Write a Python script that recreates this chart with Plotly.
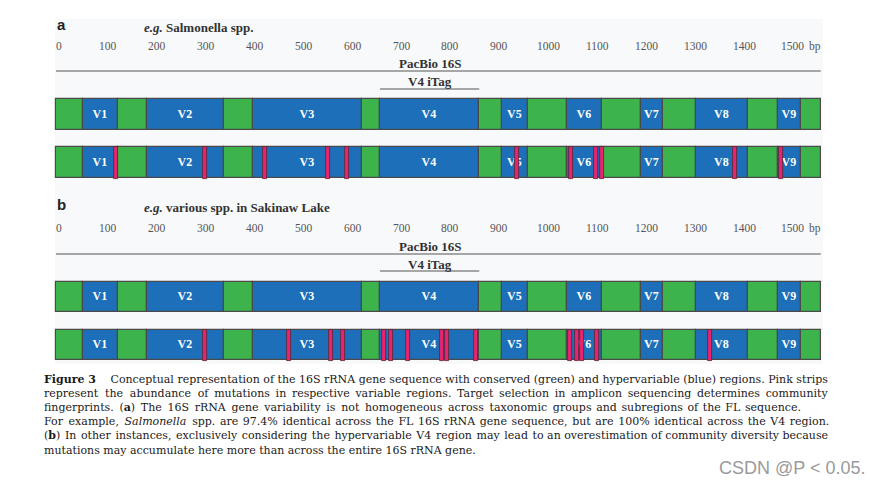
import plotly.graph_objects as go

W, H = 889, 485
PX0 = 56.0        # pixel where 0 bp sits
PXBP = 0.4893     # pixels per bp

# ---------------- data ----------------
REGION_BOUNDS = [0, 55, 127, 186, 343, 403, 625, 662, 865, 912, 965,
                 1044, 1116, 1196, 1241, 1308, 1414, 1476, 1523, 1563]
REGION_LABELS = ["", "V1", "", "V2", "", "V3", "", "V4", "", "V5", "",
                 "V6", "", "V7", "", "V8", "", "V9", ""]
REGION_TYPES = ["conserved" if lab == "" else "variable" for lab in REGION_LABELS]

TICK_VALUES = [0, 100, 200, 300, 400, 500, 600, 700, 800, 900, 1000,
               1100, 1200, 1300, 1400, 1500]
TICK_LABELS = [str(v) for v in TICK_VALUES]
UNIT_LABEL = "bp"

PACBIO_SPAN = [0, 1563]
ITAG_SPAN = [662, 865]

MUTATIONS_A = [122, 304, 427, 556, 595, 942, 1052, 1104, 1116, 1388, 1482]
MUTATIONS_B = [304, 476, 562, 587, 670, 685, 720, 788, 799, 858,
               1051, 1065, 1075, 1106, 1336]
STRIP_BP = 8

PANEL_TITLES = ["<b><i>e.g.</i> Salmonella spp.</b>",
                "<b><i>e.g.</i> various spp. in Sakinaw Lake</b>"]
PANEL_LETTERS = ["a", "b"]

CAPTION = [
    "<b>Figure 3</b>\u2003 Conceptual representation of the 16S rRNA gene sequence with conserved (green) and hypervariable (blue) regions. Pink strips",
    "represent the abundance of mutations in respective variable regions. Target selection in amplicon sequencing determines community",
    "fingerprints. (<b>a</b>) The 16S rRNA gene variability is not homogeneous across taxonomic groups and subregions of the FL sequence.",
    "For example, <i>Salmonella</i> spp. are 97.4% identical across the FL 16S rRNA gene sequence, but are 100% identical across the V4 region.",
    "(<b>b</b>) In other instances, exclusively considering the hypervariable V4 region may lead to an overestimation of community diversity because",
    "mutations may accumulate here more than across the entire 16S rRNA gene.",
]
WATERMARK = "CSDN @P < 0.05."

# ---------------- styles ----------------
GREEN = "#3cb44b"
BLUE = "#1c6fb8"
PINK = "#e8246f"
EDGE = "#4a4a4a"
TYPE_COLOR = {"conserved": GREEN, "variable": BLUE}
SERIF = "Liberation Serif"
CAP_SIZE = 11
# approximate extra pixels per caption line to imitate justified text
CAP_EXTRA = [0, 36, 33, 26, 13, 0]

PANELS = [
    dict(letter_y=24, title_y=27, tick_y=46, pac_y=63, pac_line=71,
         itag_y=81, itag_line=89, row1=(99, 130), row2=(147, 178)),
    dict(letter_y=204, title_y=207, tick_y=228, pac_y=246, pac_line=254,
         itag_y=264, itag_line=271, row1=(282, 312), row2=(330, 360)),
]
MUTATIONS = [MUTATIONS_A, MUTATIONS_B]


def justify(line, extra_px, size):
    """Spread extra_px over the word gaps with thin / hair spaces."""
    gaps = line.count(" ")
    if gaps == 0 or extra_px <= 0:
        return line
    hair = 0.1 * size
    units = int(round(extra_px / hair))
    parts = line.split(" ")
    out = parts[0]
    for i, w in enumerate(parts[1:]):
        n = units // gaps + (1 if i < units % gaps else 0)
        pad = "\u2009" * (n // 2) + "\u200a" * (n % 2)
        out += " " + pad + w
    return out


fig = go.Figure()
shapes = []
annotations = []

shapes.append(dict(type="rect", xref="paper", yref="y", x0=55 / W, x1=823 / W,
                   y0=19, y1=364, fillcolor="#f8f9fb", line_width=0, layer="below"))

starts = REGION_BOUNDS[:-1]
widths = [b - a for a, b in zip(REGION_BOUNDS[:-1], REGION_BOUNDS[1:])]
colors = [TYPE_COLOR[t] for t in REGION_TYPES]

for p, muts in zip(PANELS, MUTATIONS):
    for (top, bot) in (p["row1"], p["row2"]):
        yc = (top + bot) / 2
        fig.add_trace(go.Bar(
            orientation="h", y=[yc] * len(starts), base=starts, x=widths,
            width=bot - top, marker=dict(color=colors, line=dict(color=EDGE, width=1.2)),
            text=REGION_LABELS, textposition="inside", insidetextanchor="middle",
            textangle=0, constraintext="none",
            textfont=dict(family=SERIF, size=12, color="white", weight="bold"),
            hoverinfo="skip", showlegend=False,
        ))
    top, bot = p["row2"]
    fig.add_trace(go.Bar(
        orientation="h", y=[(top + bot) / 2] * len(muts),
        base=[m - STRIP_BP / 2 for m in muts], x=[STRIP_BP] * len(muts),
        width=bot - top + 1,
        marker=dict(color=PINK, line=dict(color="#5a2435", width=0.8)),
        hoverinfo="skip", showlegend=False,
    ))
    shapes.append(dict(type="line", xref="x", yref="y", x0=PACBIO_SPAN[0], x1=PACBIO_SPAN[1],
                       y0=p["pac_line"], y1=p["pac_line"], line=dict(color="#555555", width=1.2)))
    shapes.append(dict(type="line", xref="x", yref="y", x0=ITAG_SPAN[0], x1=ITAG_SPAN[1],
                       y0=p["itag_line"], y1=p["itag_line"], line=dict(color="#555555", width=1.2)))
    mid = (ITAG_SPAN[0] + ITAG_SPAN[1]) / 2
    annotations.append(dict(x=mid, y=p["pac_y"], xref="x", yref="y", text="<b>PacBio 16S</b>",
                            showarrow=False, font=dict(family=SERIF, size=13, color="#333333")))
    annotations.append(dict(x=mid, y=p["itag_y"], xref="x", yref="y", text="<b>V4 iTag</b>",
                            showarrow=False, font=dict(family=SERIF, size=13, color="#333333")))
    for v, lab in zip(TICK_VALUES, TICK_LABELS):
        annotations.append(dict(x=v, y=p["tick_y"], xref="x", yref="y", text=lab, xshift=3,
                                showarrow=False, font=dict(family=SERIF, size=11.5, color="#555555")))
    annotations.append(dict(x=PACBIO_SPAN[1], y=p["tick_y"], xref="x", yref="y", text=UNIT_LABEL,
                            xanchor="right", xshift=2, showarrow=False,
                            font=dict(family=SERIF, size=11.5, color="#555555")))

for p, letter, title in zip(PANELS, PANEL_LETTERS, PANEL_TITLES):
    annotations.append(dict(x=55 / W, y=p["letter_y"], xref="paper", yref="y", text="<b>%s</b>" % letter,
                            xanchor="left", showarrow=False,
                            font=dict(family="Liberation Sans", size=15, color="#222222")))
    annotations.append(dict(x=142 / W, y=p["title_y"], xref="paper", yref="y", text=title,
                            xanchor="left", showarrow=False,
                            font=dict(family=SERIF, size=13, color="#333333")))

cap_y0, cap_dy = 379, 14.2
for i, (line, extra) in enumerate(zip(CAPTION, CAP_EXTRA)):
    annotations.append(dict(x=42 / W, y=cap_y0 + i * cap_dy, xref="paper", yref="y",
                            text=justify(line, extra, CAP_SIZE),
                            xanchor="left", showarrow=False,
                            font=dict(family="DejaVu Serif", size=CAP_SIZE, color="#1a1a1a")))

annotations.append(dict(x=868 / W, y=468, xref="paper", yref="y", text=WATERMARK,
                        xanchor="right", showarrow=False,
                        font=dict(family="Liberation Sans", size=18, color="#9a9a9a")))

fig.update_layout(
    width=W, height=H, margin=dict(l=0, r=0, t=0, b=0),
    paper_bgcolor="white", plot_bgcolor="white",
    barmode="overlay", bargap=0,
    xaxis=dict(range=[-PX0 / PXBP, (W - PX0) / PXBP], visible=False, fixedrange=True),
    yaxis=dict(range=[H, 0], visible=False, fixedrange=True),
    shapes=shapes, annotations=annotations,
    uniformtext=dict(minsize=12, mode="show"),
)

fig.write_html("out.html", config={"displayModeBar": False},
               post_script="document.body.style.margin='0px';")
